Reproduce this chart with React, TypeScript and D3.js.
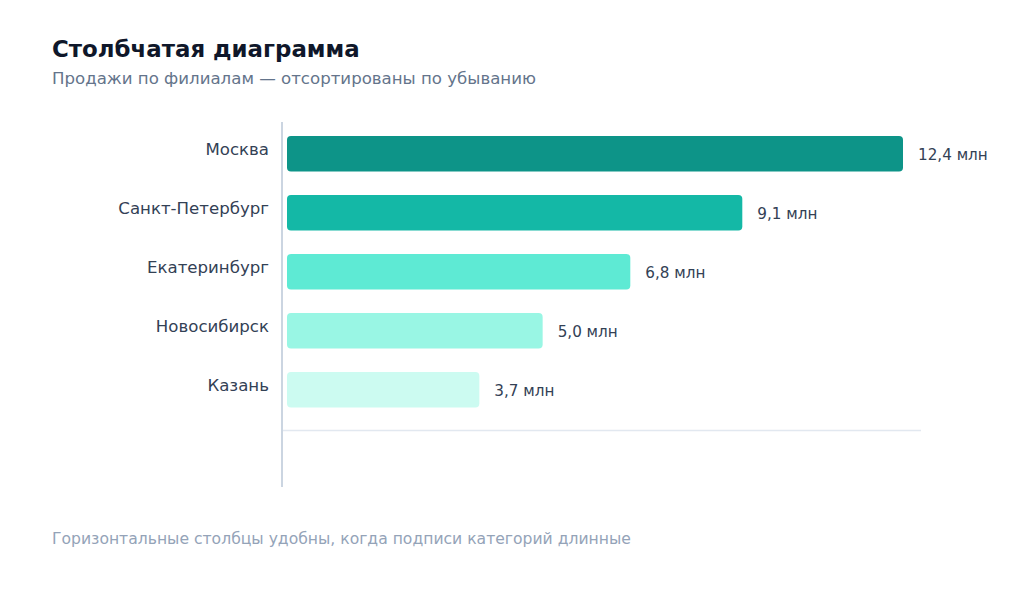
import React from "react";
import * as d3 from "d3";

const categories = ["Москва", "Санкт-Петербург", "Екатеринбург", "Новосибирск", "Казань"];
const values = [12.4, 9.1, 6.8, 5.0, 3.7];
const valueLabels = ["12,4 млн", "9,1 млн", "6,8 млн", "5,0 млн", "3,7 млн"];
const colors = ["#0d9488", "#14b8a6", "#5eead4", "#99f6e4", "#ccfbf1"];

const title = "Столбчатая диаграмма";
const subtitle = "Продажи по филиалам — отсортированы по убыванию";
const footnote = "Горизонтальные столбцы удобны, когда подписи категорий длинные";

const W = 1024;
const H = 589;
const FONT = "'DejaVu Sans', sans-serif";

export default function App() {
  const x = d3.scaleLinear().domain([-0.25, 12.4]).range([287, 903]);
  const y = d3
    .scaleBand<string>()
    .domain(categories)
    .range([112.4, 431])
    .paddingInner(0.4)
    .paddingOuter(0.4);
  const bw = y.bandwidth();
  const x0 = x(-0.25);

  return (
    <svg
      width={W}
      height={H}
      viewBox={`0 0 ${W} ${H}`}
      style={{ position: "absolute", left: 0, top: 0, background: "#fff" }}
      fontFamily={FONT}
    >
      <rect width={W} height={H} fill="#ffffff" />
      <text x={52} y={57} fontSize={22.9} fontWeight={700} fill="#0f172a">
        {title}
      </text>
      <text x={52} y={84} fontSize={16.6} fill="#64748b">
        {subtitle}
      </text>

      <line x1={282} x2={921} y1={430.5} y2={430.5} stroke="#e2e8f0" strokeWidth={1.5} />
      <line x1={282} x2={282} y1={122} y2={487} stroke="#cbd5e1" strokeWidth={2} />

      {categories.map((c, i) => {
        const yy = y(c) as number;
        const cy = yy + bw / 2;
        return (
          <g key={c}>
            <rect
              x={x0}
              y={yy}
              width={x(values[i]) - x0}
              height={bw}
              rx={4}
              ry={4}
              fill={colors[i]}
            />
            <text
              x={269}
              y={cy - 3}
              textAnchor="end"
              dominantBaseline="middle"
              fontSize={16.6}
              fill="#334155"
            >
              {c}
            </text>
            <text
              x={x(values[i]) + 15}
              y={cy + 2}
              dominantBaseline="middle"
              fontSize={15.2}
              fill="#334155"
            >
              {valueLabels[i]}
            </text>
          </g>
        );
      })}

      <text x={52} y={544} fontSize={15.6} fill="#94a3b8">
        {footnote}
      </text>
    </svg>
  );
}
